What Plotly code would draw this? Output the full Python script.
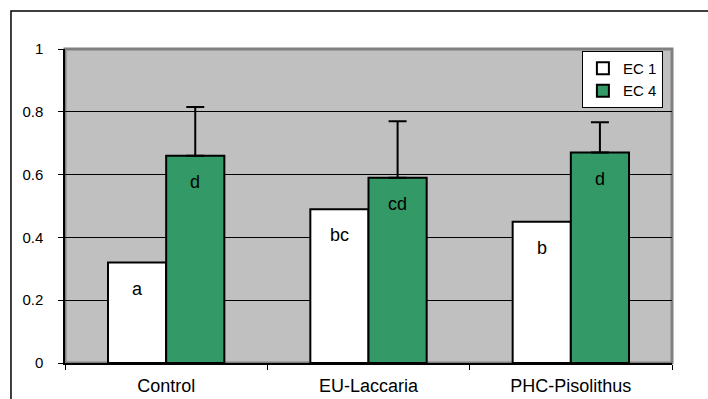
import plotly.graph_objects as go

# Treatments and measured values
categories = ["Control", "EU-Laccaria", "PHC-Pisolithus"]
ec1_values = [0.32, 0.49, 0.45]
ec4_values = [0.66, 0.59, 0.67]
ec4_errors = [0.155, 0.18, 0.097]
ec1_letters = ["a", "bc", "b"]
ec4_letters = ["d", "cd", "d"]
y_ticks = [0, 0.2, 0.4, 0.6, 0.8, 1]
y_tick_labels = ["0", "0.2", "0.4", "0.6", "0.8", "1"]

FONT = "Liberation Sans, Arial, sans-serif"

fig = go.Figure()
fig.add_trace(go.Bar(
    x=categories, y=ec1_values, name="EC 1",
    marker=dict(color="white", line=dict(color="black", width=2)),
))
fig.add_trace(go.Bar(
    x=categories, y=ec4_values, name="EC 4",
    marker=dict(color="#339966", line=dict(color="black", width=2)),
    error_y=dict(type="data", array=ec4_errors, symmetric=False,
                 arrayminus=[0] * len(ec4_errors),
                 color="black", thickness=2, width=9),
))

# Significance letters inside each bar, just below its top
for cat, v, lab in zip(categories, ec1_values, ec1_letters):
    fig.add_annotation(x=cat, y=v, text=lab, showarrow=False, xshift=-29,
                       yshift=-26, font=dict(family=FONT, size=18, color="black"))
for cat, v, lab in zip(categories, ec4_values, ec4_letters):
    fig.add_annotation(x=cat, y=v, text=lab, showarrow=False, xshift=29,
                       yshift=-26, font=dict(family=FONT, size=18, color="black"))

# Plot-area frame and the outer chart border
fig.add_shape(type="rect", xref="paper", yref="paper", x0=0, x1=1, y0=0, y1=1,
              line=dict(color="#808080", width=3), layer="below")
fig.add_shape(type="rect", xref="paper", yref="paper",
              x0=-0.089, x1=1.2, y0=-0.3, y1=1.121,
              line=dict(color="black", width=1.5))

fig.update_layout(
    width=708, height=399,
    margin=dict(l=65, r=36, t=49, b=36, autoexpand=False),
    paper_bgcolor="white",
    plot_bgcolor="#C0C0C0",
    barmode="group",
    bargap=0.425,
    bargroupgap=0,
    font=dict(family=FONT, size=15, color="black"),
    legend=dict(
        x=0.985, y=0.994, xanchor="right", yanchor="top",
        bgcolor="white", bordercolor="black", borderwidth=1,
        font=dict(family=FONT, size=15, color="black"),
        itemwidth=30, tracegroupgap=0,
    ),
    xaxis=dict(
        showline=True, linecolor="black", linewidth=1.5,
        ticks="outside", tickson="boundaries", ticklen=5, tickcolor="black",
        showgrid=False, ticklabelstandoff=6, automargin=False,
        tickfont=dict(family=FONT, size=18),
    ),
    yaxis=dict(
        range=[0, 1], tickvals=y_ticks, ticktext=y_tick_labels,
        showline=True, linecolor="black", linewidth=1.5,
        ticks="outside", ticklen=5, tickcolor="black",
        showgrid=True, gridcolor="black", gridwidth=1,
        zeroline=False, ticklabelstandoff=12, automargin=False,
        tickfont=dict(family=FONT, size=15),
    ),
)

fig.write_html("out.html")
